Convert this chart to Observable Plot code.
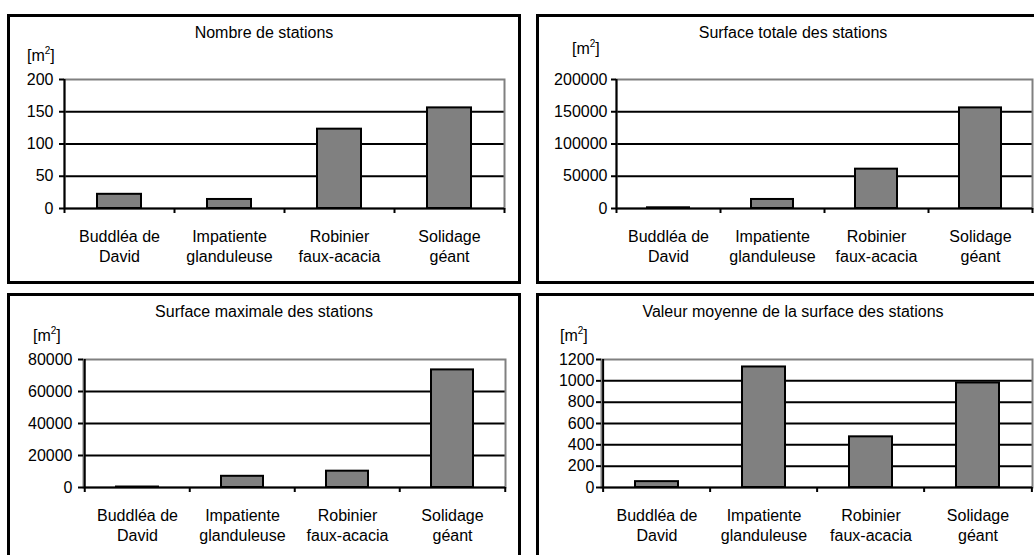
<!DOCTYPE html>
<html>
<head>
<meta charset="utf-8">
<script src="https://cdn.jsdelivr.net/npm/d3@7"></script>
<script src="https://cdn.jsdelivr.net/npm/@observablehq/plot@0.6"></script>
<style>
  html, body { margin: 0; padding: 0; background: #fff; width: 1034px; height: 555px; overflow: hidden; }
  .panel { position: absolute; width: 508px; height: 264px; border: 3px solid #000; box-sizing: content-box; overflow: hidden; background: #fff; }
  .panel svg { position: absolute; left: 0; top: 0; }
  .title { position: absolute; left: 0; width: 100%; top: 8px; text-align: center; white-space: nowrap;
           font: 16px "Liberation Sans", Arial, sans-serif; line-height: 16px; color: #000; }
  .unit { position: absolute; white-space: nowrap; font: 16px "Liberation Sans", Arial, sans-serif; line-height: 16px; color: #000; }
  .unit .sup { position: relative; top: -7px; font-size: 10px; }
</style>
</head>
<body>
<script>
// Invasive plant species surveyed
const categories = ["Buddléa de\nDavid", "Impatiente\nglanduleuse", "Robinier\nfaux-acacia", "Solidage\ngéant"];

// Values per species
const stationCount = [22, 14, 123, 156];
const totalArea = [1100, 14000, 61000, 156000];
const maxArea = [300, 7000, 10200, 73500];
const meanArea = [55, 1130, 475, 980];

// Y tick values per chart
const countTicks = [0, 50, 100, 150, 200];
const totalTicks = [0, 50000, 100000, 150000, 200000];
const maxTicks = [0, 20000, 40000, 60000, 80000];
const meanTicks = [0, 200, 400, 600, 800, 1000, 1200];

// Chart titles
const titles = [
  "Nombre de stations",
  "Surface totale des stations",
  "Surface maximale des stations",
  "Valeur moyenne de la surface des stations"
];

const W = 508, H = 264;
const FONT = "Liberation Sans, Arial, sans-serif";

const panels = [
  {title: titles[0], values: stationCount, ticks: countTicks, left: 7, top: 14,
   margin: [62, 14, 73, 54], unit: [17, 32], tickPadding: 6},
  {title: titles[1], values: totalArea, ticks: totalTicks, left: 536, top: 14,
   margin: [62, 15, 73, 77], unit: [33, 25], tickPadding: 4},
  {title: titles[2], values: maxArea, ticks: maxTicks, left: 7, top: 293,
   margin: [63, 13, 73, 73], unit: [23, 33], tickPadding: 6},
  {title: titles[3], values: meanArea, ticks: meanTicks, left: 536, top: 293,
   margin: [63, 15, 73, 62], unit: [21, 33], tickPadding: 2}
];

for (const p of panels) {
  const div = document.createElement("div");
  div.className = "panel";
  div.style.left = p.left + "px";
  div.style.top = p.top + "px";

  const [mt, mr, mb, ml] = p.margin;
  const step = (W - ml - mr) / categories.length;
  const top = p.ticks[p.ticks.length - 1];
  const data = categories.map((c, i) => ({category: c, value: p.values[i]}));

  const chart = Plot.plot({
    width: W,
    height: H,
    marginTop: mt, marginRight: mr, marginBottom: mb, marginLeft: ml,
    style: {fontFamily: FONT, fontSize: "16px", color: "#000", background: "transparent"},
    x: {type: "band", domain: categories, paddingInner: 0.6, paddingOuter: 0.3, axis: null},
    y: {domain: [0, top], axis: null},
    marks: [
      // horizontal gridlines
      Plot.ruleY(p.ticks.filter(t => t > 0 && t < top), {stroke: "#000", strokeWidth: 2}),
      // plot area border
      Plot.frame({stroke: "#808080", strokeWidth: 2}),
      // bars
      Plot.barY(data, {x: "category", y: "value", fill: "#808080", stroke: "#000", strokeWidth: 2}),
      // axis lines
      Plot.ruleY([0], {stroke: "#000", strokeWidth: 2}),
      Plot.ruleX([categories[0]], {dx: -step / 2, y1: 0, y2: top, stroke: "#000", strokeWidth: 2}),
      // y axis ticks and labels
      Plot.axisY(p.ticks, {tickSize: 5, tickPadding: p.tickPadding, tickFormat: d => String(d),
        strokeWidth: 2, fill: "#000", stroke: "#000", fontSize: 16, label: null}),
      // x tick marks on category boundaries
      Plot.axisX(categories, {tickSize: 5, dx: -step / 2, fill: "none", stroke: "#000", strokeWidth: 2, label: null}),
      Plot.axisX([categories[categories.length - 1]], {tickSize: 5, dx: step / 2, fill: "none", stroke: "#000", strokeWidth: 2, label: null}),
      // category labels
      Plot.axisX(categories, {tickSize: 0, tickPadding: 19, lineHeight: 1.25, fill: "#000", fontSize: 16, label: null})
    ]
  });
  div.appendChild(chart);

  const t = document.createElement("div");
  t.className = "title";
  t.textContent = p.title;
  div.appendChild(t);

  const u = document.createElement("div");
  u.className = "unit";
  u.style.left = p.unit[0] + "px";
  u.style.top = (p.unit[1] - 1) + "px";
  u.innerHTML = '[m<span class="sup">2</span>]';
  div.appendChild(u);

  document.body.appendChild(div);
}
</script>
</body>
</html>
